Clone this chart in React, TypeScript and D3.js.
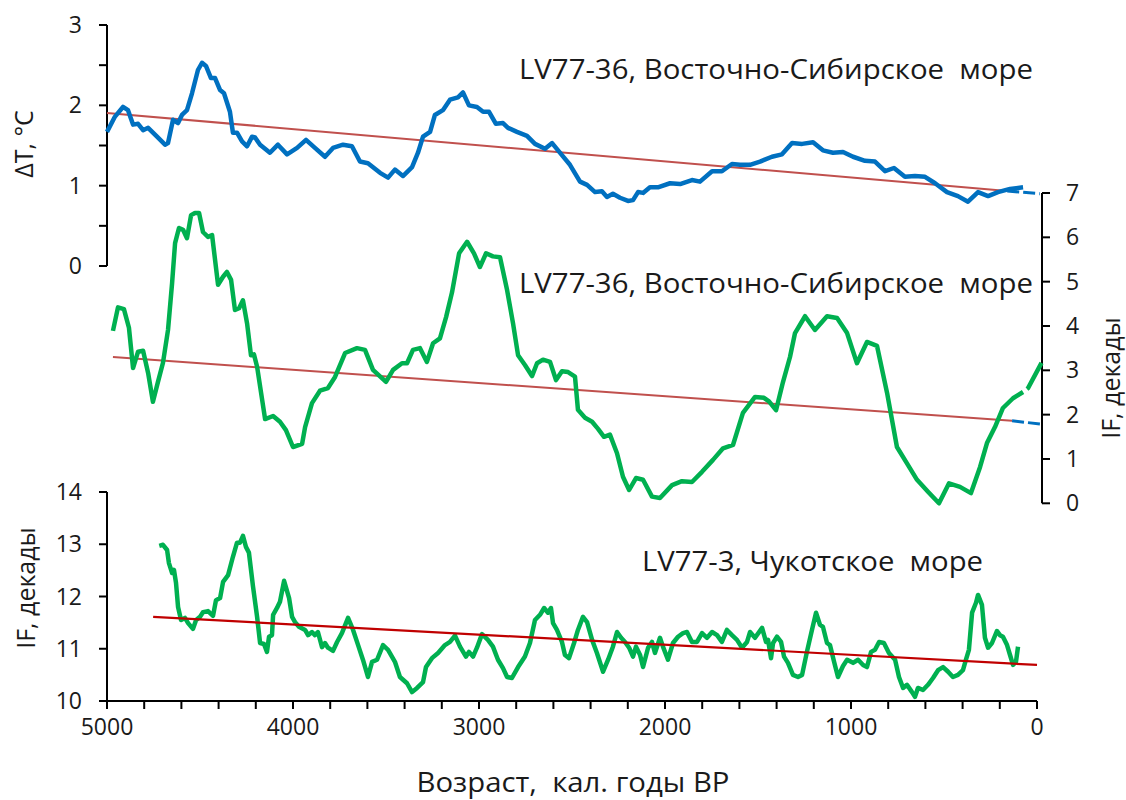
import React from "react";
import * as d3 from "d3";

// ---- data: [age (cal. yr BP), value] ----
const dtEastSiberian: [number, number][] = [
  [5000, 1.67], [4957, 1.86], [4914, 1.98], [4887, 1.94], [4860, 1.76], [4833, 1.77], [4806, 1.69],
  [4779, 1.72], [4731, 1.61], [4688, 1.51], [4672, 1.53], [4645, 1.82], [4618, 1.78], [4597, 1.88],
  [4570, 1.94], [4543, 2.15], [4511, 2.44], [4489, 2.53], [4468, 2.49], [4441, 2.34], [4419, 2.34],
  [4392, 2.19], [4371, 2.15], [4339, 1.92], [4323, 1.66], [4301, 1.66], [4274, 1.55], [4247, 1.49],
  [4220, 1.61], [4204, 1.6], [4177, 1.51], [4124, 1.41], [4081, 1.51], [4032, 1.39], [3978, 1.47],
  [3930, 1.57], [3882, 1.47], [3828, 1.36], [3785, 1.47], [3731, 1.51], [3683, 1.49], [3640, 1.3],
  [3597, 1.28], [3532, 1.16], [3489, 1.1], [3452, 1.2], [3409, 1.12], [3360, 1.23], [3328, 1.41],
  [3301, 1.61], [3263, 1.67], [3237, 1.88], [3194, 1.94], [3156, 2.07], [3113, 2.1], [3086, 2.16],
  [3054, 2.0], [3011, 1.98], [2978, 1.92], [2946, 1.92], [2909, 1.77], [2871, 1.78], [2844, 1.72],
  [2796, 1.67], [2742, 1.62], [2699, 1.52], [2645, 1.46], [2607, 1.53], [2554, 1.38], [2511, 1.26],
  [2457, 1.05], [2419, 1.01], [2376, 0.92], [2339, 0.93], [2312, 0.86], [2280, 0.9], [2242, 0.85],
  [2199, 0.81], [2172, 0.82], [2145, 0.92], [2118, 0.91], [2081, 0.98], [2038, 0.98], [1973, 1.03],
  [1919, 1.02], [1855, 1.07], [1812, 1.05], [1747, 1.18], [1694, 1.18], [1640, 1.27], [1597, 1.26],
  [1543, 1.26], [1489, 1.3], [1425, 1.36], [1371, 1.39], [1317, 1.53], [1263, 1.52], [1204, 1.54],
  [1151, 1.44], [1097, 1.41], [1043, 1.42], [989, 1.36], [925, 1.31], [871, 1.3], [817, 1.18],
  [769, 1.22], [710, 1.11], [656, 1.12], [602, 1.11], [548, 1.03], [484, 0.92], [425, 0.87],
  [371, 0.8], [317, 0.92], [263, 0.87], [210, 0.92], [145, 0.96], [75, 0.98],
];
const dtTrend: [number, number][] = [[5000, 1.905], [160, 0.934]];
const dtTrendExt: [number, number][] = [[160, 0.934], [-15, 0.9]];

const ifEastSiberian: [number, number][] = [
  [4968, 3.89], [4941, 4.42], [4909, 4.38], [4882, 3.96], [4860, 3.05], [4833, 3.42], [4806, 3.44],
  [4779, 2.94], [4753, 2.29], [4726, 2.74], [4699, 3.17], [4672, 3.91], [4650, 4.97], [4634, 5.87],
  [4613, 6.21], [4591, 6.17], [4570, 5.98], [4548, 6.5], [4527, 6.55], [4505, 6.55], [4484, 6.12],
  [4457, 6.01], [4435, 6.05], [4403, 4.93], [4376, 5.11], [4355, 5.22], [4333, 5.04], [4312, 4.36],
  [4290, 4.4], [4269, 4.58], [4247, 4.06], [4226, 3.34], [4210, 3.36], [4193, 3.08], [4150, 1.9],
  [4107, 1.97], [4070, 1.84], [4038, 1.65], [4000, 1.27], [3951, 1.34], [3935, 1.72], [3898, 2.26],
  [3855, 2.54], [3812, 2.6], [3774, 2.85], [3720, 3.39], [3656, 3.5], [3613, 3.46], [3570, 3.01],
  [3500, 2.74], [3462, 3.01], [3414, 3.16], [3387, 3.16], [3355, 3.46], [3317, 3.5], [3280, 3.19],
  [3247, 3.61], [3210, 3.72], [3177, 4.2], [3145, 4.76], [3107, 5.64], [3064, 5.9], [3027, 5.64],
  [2995, 5.33], [2962, 5.64], [2925, 5.57], [2887, 5.55], [2849, 4.81], [2817, 4.06], [2790, 3.34],
  [2753, 3.12], [2715, 2.87], [2688, 3.16], [2656, 3.24], [2618, 3.19], [2586, 2.78], [2554, 2.98],
  [2521, 2.96], [2484, 2.86], [2468, 2.11], [2430, 1.93], [2392, 1.84], [2360, 1.68], [2328, 1.5],
  [2296, 1.55], [2258, 1.13], [2226, 0.6], [2193, 0.3], [2156, 0.57], [2118, 0.53], [2070, 0.15],
  [2027, 0.12], [1962, 0.41], [1909, 0.5], [1855, 0.48], [1801, 0.71], [1742, 0.98], [1688, 1.24],
  [1634, 1.32], [1581, 2.04], [1516, 2.4], [1468, 2.38], [1441, 2.3], [1403, 2.1], [1366, 2.73],
  [1328, 3.3], [1301, 3.84], [1247, 4.22], [1194, 3.91], [1129, 4.22], [1075, 4.18], [1021, 3.84],
  [968, 3.16], [914, 3.64], [860, 3.55], [806, 2.49], [753, 1.27], [699, 0.9], [645, 0.53],
  [586, 0.26], [527, 0.0], [473, 0.45], [414, 0.37], [355, 0.23], [306, 0.82], [269, 1.36],
  [226, 1.72], [183, 2.15], [129, 2.37], [75, 2.51],
];
const ifEastSiberianExt: [number, number][] = [[75, 2.51], [48, 2.6], [-27, 3.19]];
const ifEsTrend: [number, number][] = [[4968, 3.3], [134, 1.86]];
const ifEsTrendExt: [number, number][] = [[134, 1.86], [-16, 1.79]];

const ifChukchi: [number, number][] = [
  [4719, 12.97], [4699, 12.99], [4677, 12.89], [4667, 12.64], [4650, 12.45], [4640, 12.51],
  [4629, 12.26], [4618, 11.8], [4602, 11.55], [4581, 11.59], [4564, 11.49], [4538, 11.38],
  [4521, 11.55], [4500, 11.61], [4484, 11.7], [4457, 11.72], [4430, 11.63], [4414, 11.93],
  [4392, 11.97], [4376, 12.28], [4349, 12.41], [4323, 12.76], [4301, 13.03], [4285, 13.03],
  [4269, 13.16], [4253, 12.95], [4237, 12.84], [4215, 12.19], [4193, 11.61], [4177, 11.11],
  [4156, 11.09], [4140, 10.94], [4129, 11.23], [4113, 11.26], [4107, 11.65], [4086, 11.78],
  [4070, 11.9], [4048, 12.3], [4021, 11.97], [4005, 11.61], [3989, 11.51], [3968, 11.42],
  [3935, 11.36], [3919, 11.26], [3898, 11.32], [3882, 11.26], [3866, 11.32], [3844, 11.03],
  [3828, 11.11], [3812, 11.02], [3785, 10.96], [3763, 11.13], [3737, 11.3], [3704, 11.59],
  [3677, 11.36], [3650, 11.07], [3624, 10.79], [3597, 10.46], [3575, 10.75], [3548, 10.79],
  [3516, 11.07], [3489, 10.98], [3452, 10.75], [3425, 10.46], [3387, 10.34], [3360, 10.17],
  [3333, 10.25], [3301, 10.36], [3285, 10.65], [3253, 10.82], [3220, 10.92], [3183, 11.07],
  [3156, 11.13], [3129, 11.25], [3102, 11.04], [3070, 10.85], [3054, 10.94], [3032, 10.85],
  [3011, 11.02], [2984, 11.28], [2952, 11.17], [2925, 11.04], [2898, 10.79], [2871, 10.63],
  [2849, 10.46], [2823, 10.44], [2790, 10.65], [2753, 10.85], [2726, 11.11], [2699, 11.55],
  [2672, 11.65], [2650, 11.78], [2629, 11.69], [2613, 11.78], [2602, 11.49], [2581, 11.36],
  [2554, 11.13], [2538, 10.88], [2516, 10.82], [2489, 11.11], [2468, 11.36], [2441, 11.61],
  [2419, 11.51], [2392, 11.17], [2366, 10.92], [2333, 10.56], [2306, 10.79], [2280, 11.04],
  [2258, 11.32], [2236, 11.21], [2215, 11.13], [2193, 11.02], [2172, 10.85], [2156, 11.04],
  [2134, 10.88], [2118, 10.65], [2091, 11.02], [2070, 11.13], [2054, 10.92], [2027, 11.21],
  [2011, 11.04], [1984, 10.79], [1957, 11.11], [1930, 11.23], [1903, 11.3], [1882, 11.32],
  [1855, 11.13], [1828, 11.13], [1801, 11.3], [1774, 11.21], [1747, 11.32], [1720, 11.26],
  [1694, 11.13], [1667, 11.36], [1640, 11.26], [1613, 11.17], [1586, 11.02], [1559, 11.13],
  [1543, 11.32], [1516, 11.21], [1478, 11.4], [1457, 11.13], [1446, 11.17], [1430, 10.82],
  [1419, 11.11], [1398, 11.23], [1376, 11.13], [1360, 10.85], [1339, 10.73], [1312, 10.5],
  [1285, 10.46], [1263, 10.5], [1237, 10.94], [1210, 11.36], [1188, 11.69], [1167, 11.46],
  [1151, 11.42], [1129, 11.11], [1113, 11.07], [1091, 10.75], [1070, 10.46], [1043, 10.67],
  [1021, 10.79], [989, 10.73], [962, 10.79], [935, 10.69], [914, 10.65], [892, 10.94],
  [871, 10.98], [849, 11.13], [823, 11.11], [796, 10.92], [763, 10.79], [742, 10.46],
  [720, 10.25], [699, 10.31], [672, 10.17], [656, 10.08], [640, 10.25], [613, 10.21],
  [586, 10.31], [559, 10.44], [532, 10.59], [505, 10.65], [478, 10.56], [452, 10.46],
  [425, 10.5], [398, 10.59], [382, 10.79], [366, 10.98], [349, 11.69], [328, 11.88],
  [317, 12.03], [296, 11.84], [280, 11.21], [263, 11.02], [242, 11.11], [215, 11.34],
  [199, 11.26], [183, 11.23], [161, 11.07], [145, 10.88], [129, 10.69], [113, 10.75], [102, 11.04],
];
const ifChTrend: [number, number][] = [[4752, 11.61], [0, 10.69]];

// ---- axis ticks / labels ----
const ageMinorTicks = d3.range(0, 5001, 200);
const ageLabels = [5000, 4000, 3000, 2000, 1000, 0];
const dtTicks = d3.range(0, 3.01, 0.5);
const dtLabels = [0, 1, 2, 3];
const ifRightTicks = [0, 1, 2, 3, 4, 5, 6, 7];
const ifBottomTicks = [10, 11, 12, 13, 14];

const titleES = "LV77-36, Восточно-Сибирское  море";
const titleCh = "LV77-3, Чукотское  море";
const xTitle = "Возраст,  кал. годы BP";

// ---- layout ----
const W = 1126;
const H = 800;
const FONT = "'Open Sans', 'DejaVu Sans', sans-serif";
const BLUE = "#0070C0";
const GREEN = "#00B050";
const TREND = "#C0504D";
const TREND_DARK = "#C00000";
const TEXT = "#1a1a1a";

export default function App() {
  const x = d3.scaleLinear().domain([5000, 0]).range([107, 1037]);
  const yDT = d3.scaleLinear().domain([0, 3]).range([266, 25]);
  const yIF1 = d3.scaleLinear().domain([0, 7]).range([503.3, 193]);
  const yIF2 = d3.scaleLinear().domain([10, 14]).range([701, 492]);

  const mk = (y: d3.ScaleLinear<number, number>) =>
    d3.line<[number, number]>().x((d) => x(d[0])).y((d) => y(d[1]));

  const lDT = mk(yDT);
  const lIF1 = mk(yIF1);
  const lIF2 = mk(yIF2);

  const axisColor = "#000";
  const tickLen = 8;
  const leftX = x(5000);
  const rightX = 1042;
  const baseY = yIF2(10);
  const lineW = 4.5;

  return (
    <svg
      width={W}
      height={H}
      viewBox={`0 0 ${W} ${H}`}
      style={{ position: "absolute", left: 0, top: 0, background: "#fff" }}
      fontFamily={FONT}
    >
      <rect width={W} height={H} fill="#fff" />

      {/* ΔT axis (top left) */}
      <g stroke={axisColor} strokeWidth={2}>
        <line x1={leftX} x2={leftX} y1={yDT(3)} y2={yDT(0)} />
        {dtTicks.map((t) => (
          <line key={t} x1={leftX - tickLen} x2={leftX} y1={yDT(t)} y2={yDT(t)} />
        ))}
      </g>
      {dtLabels.map((t) => (
        <text key={t} x={82} y={yDT(t)} dy="0.35em" textAnchor="end" fontSize={23} fill={TEXT}>
          {t}
        </text>
      ))}
      <text transform={`translate(33, 144) rotate(-90)`} textAnchor="middle" fontSize={25} fill={TEXT}>
        ΔT, °C
      </text>

      {/* IF axis (right, middle panel) */}
      <g stroke={axisColor} strokeWidth={2}>
        <line x1={rightX} x2={rightX} y1={yIF1(7)} y2={yIF1(0)} />
        {ifRightTicks.map((t) => (
          <line key={t} x1={rightX} x2={rightX + tickLen} y1={yIF1(t)} y2={yIF1(t)} />
        ))}
      </g>
      {ifRightTicks.map((t) => (
        <text key={t} x={1066} y={yIF1(t)} dy="0.35em" textAnchor="start" fontSize={23} fill={TEXT}>
          {t}
        </text>
      ))}
      <text transform={`translate(1120, 378) rotate(-90)`} textAnchor="middle" fontSize={25} fill={TEXT}>
        IF, декады
      </text>

      {/* IF axis (bottom left) */}
      <g stroke={axisColor} strokeWidth={2}>
        <line x1={leftX} x2={leftX} y1={yIF2(14)} y2={yIF2(10)} />
        {ifBottomTicks.map((t) => (
          <line key={t} x1={leftX - tickLen} x2={leftX} y1={yIF2(t)} y2={yIF2(t)} />
        ))}
      </g>
      {ifBottomTicks.map((t) => (
        <text key={t} x={82} y={yIF2(t)} dy="0.35em" textAnchor="end" fontSize={23} fill={TEXT}>
          {t}
        </text>
      ))}
      <text transform={`translate(35, 588) rotate(-90)`} textAnchor="middle" fontSize={25} fill={TEXT}>
        IF, декады
      </text>

      {/* age axis */}
      <g stroke={axisColor} strokeWidth={2}>
        <line x1={x(5000)} x2={x(0)} y1={baseY} y2={baseY} />
        {ageMinorTicks.map((t) => (
          <line key={t} x1={x(t)} x2={x(t)} y1={baseY} y2={baseY + tickLen} />
        ))}
      </g>
      {ageLabels.map((t) => (
        <text key={t} x={x(t)} y={735} textAnchor="middle" fontSize={23} fill={TEXT}>
          {t}
        </text>
      ))}
      <text
        x={573}
        y={792}
        textAnchor="middle"
        fontSize={27}
        fill={TEXT}
        style={{ whiteSpace: "pre" }}
        textLength={313}
        lengthAdjust="spacingAndGlyphs"
      >
        {xTitle}
      </text>

      {/* panel titles */}
      <text x={519} y={79} fontSize={27.5} fill={TEXT} style={{ whiteSpace: "pre" }} textLength={514} lengthAdjust="spacingAndGlyphs">
        {titleES}
      </text>
      <text x={519} y={293} fontSize={27.5} fill={TEXT} style={{ whiteSpace: "pre" }} textLength={514} lengthAdjust="spacingAndGlyphs">
        {titleES}
      </text>
      <text x={642} y={571} fontSize={27.5} fill={TEXT} style={{ whiteSpace: "pre" }} textLength={341} lengthAdjust="spacingAndGlyphs">
        {titleCh}
      </text>

      {/* trend lines */}
      <path d={lDT(dtTrend) ?? ""} fill="none" stroke={TREND} strokeWidth={2} />
      <path d={lIF1(ifEsTrend) ?? ""} fill="none" stroke={TREND} strokeWidth={2} />

      {/* series */}
      <path d={lDT(dtEastSiberian) ?? ""} fill="none" stroke={BLUE} strokeWidth={lineW} strokeLinejoin="round" />
      <path d={lDT(dtTrendExt) ?? ""} fill="none" stroke={BLUE} strokeWidth={3} strokeDasharray="12 4" />

      <path d={lIF1(ifEastSiberian) ?? ""} fill="none" stroke={GREEN} strokeWidth={lineW} strokeLinejoin="round" />
      <path
        d={lIF1(ifEastSiberianExt) ?? ""}
        fill="none"
        stroke={GREEN}
        strokeWidth={lineW}
        strokeDasharray="30 5"
        strokeDashoffset={30}
      />
      <path d={lIF1(ifEsTrendExt) ?? ""} fill="none" stroke={BLUE} strokeWidth={3} strokeDasharray="12 4" />

      <path d={lIF2(ifChukchi) ?? ""} fill="none" stroke={GREEN} strokeWidth={lineW} strokeLinejoin="round" />
      <path d={lIF2(ifChTrend) ?? ""} fill="none" stroke={TREND_DARK} strokeWidth={2.2} />
    </svg>
  );
}
